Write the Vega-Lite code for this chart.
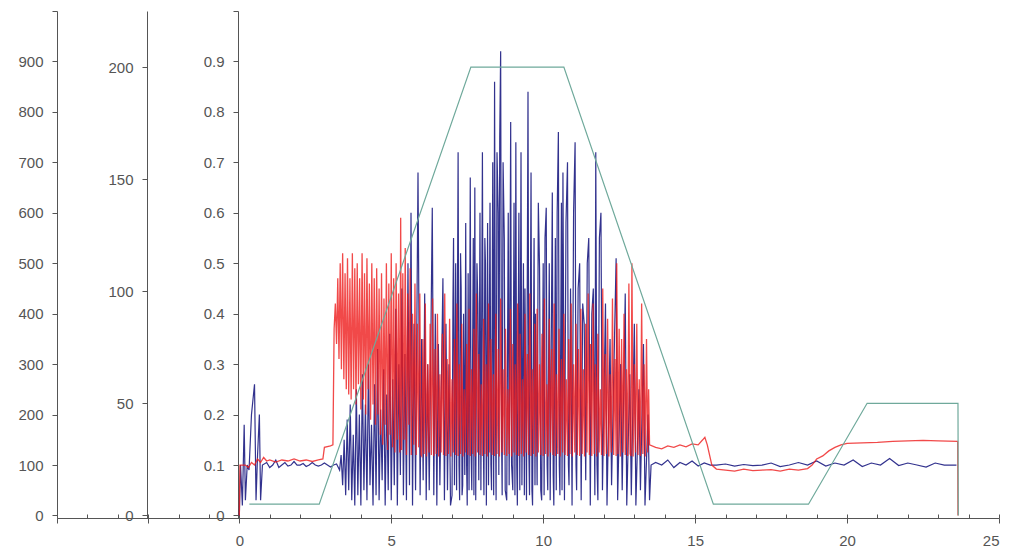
{
  "$schema": "https://vega.github.io/schema/vega-lite/v6.json",
  "width": 942,
  "height": 507,
  "autosize": "none",
  "padding": {"left": 57, "top": 11, "right": 13, "bottom": 33},
  "background": "white",
  "config": {
    "view": {"stroke": null},
    "axis": {"grid": false, "domainColor": "#555", "tickColor": "#555", "labelColor": "#555", "labelFont": "Liberation Sans", "labelFontSize": 15, "domainWidth": 1, "tickWidth": 1}
  },
  "datasets": {
    "red": [
      {"t":0.0,"v":0},{"t":0.02,"v":100},{"t":0.2,"v":100},{"t":0.3,"v":95},{"t":0.4,"v":105},{"t":0.5,"v":100},{"t":0.6,"v":112},{"t":0.7,"v":105},{"t":0.8,"v":115},{"t":0.9,"v":108},{"t":1.0,"v":110},{"t":1.2,"v":106},{"t":1.4,"v":110},{"t":1.6,"v":108},{"t":1.8,"v":112},{"t":2.0,"v":108},{"t":2.2,"v":110},{"t":2.4,"v":107},{"t":2.6,"v":110},{"t":2.75,"v":112},{"t":2.8,"v":135},{"t":3.0,"v":138},{"t":3.08,"v":140},
      {"t":3.12,"v":370},{"t":3.16,"v":420},{"t":3.2,"v":340},{"t":3.24,"v":470},{"t":3.28,"v":310},{"t":3.32,"v":500},{"t":3.36,"v":290},{"t":3.4,"v":520},{"t":3.44,"v":270},{"t":3.48,"v":480},{"t":3.52,"v":250},{"t":3.56,"v":510},{"t":3.6,"v":240},{"t":3.64,"v":470},{"t":3.68,"v":230},{"t":3.72,"v":520},{"t":3.76,"v":250},{"t":3.8,"v":490},{"t":3.84,"v":220},{"t":3.88,"v":500},{"t":3.92,"v":260},{"t":3.96,"v":470},{"t":4.0,"v":210},{"t":4.04,"v":520},{"t":4.08,"v":230},{"t":4.12,"v":480},{"t":4.16,"v":200},{"t":4.2,"v":510},{"t":4.24,"v":250},{"t":4.28,"v":460},{"t":4.32,"v":190},{"t":4.36,"v":500},{"t":4.4,"v":220},{"t":4.44,"v":470},{"t":4.48,"v":180},{"t":4.52,"v":490},{"t":4.56,"v":200},{"t":4.6,"v":450},
      {"t":4.64,"v":160},{"t":4.68,"v":480},{"t":4.72,"v":140},{"t":4.76,"v":430},{"t":4.8,"v":180},{"t":4.84,"v":500},{"t":4.88,"v":130},{"t":4.92,"v":460},{"t":4.96,"v":160},{"t":5.0,"v":520},{"t":5.04,"v":135},{"t":5.08,"v":470},{"t":5.12,"v":125},{"t":5.16,"v":500},{"t":5.2,"v":150},{"t":5.24,"v":440},{"t":5.28,"v":125},{"t":5.31,"v":590},{"t":5.34,"v":130},{"t":5.38,"v":480},{"t":5.42,"v":150},{"t":5.46,"v":530},{"t":5.5,"v":120},{"t":5.54,"v":440},{"t":5.58,"v":180},{"t":5.62,"v":490},{"t":5.66,"v":120},{"t":5.7,"v":400},{"t":5.74,"v":140},{"t":5.78,"v":460},{"t":5.82,"v":120},{"t":5.86,"v":380},{"t":5.9,"v":135},{"t":5.94,"v":440},{"t":5.98,"v":120},
      {"t":6.0,"v":118},{"t":6.04,"v":350},{"t":6.08,"v":122},{"t":6.12,"v":420},{"t":6.16,"v":117},{"t":6.2,"v":300},{"t":6.24,"v":125},{"t":6.28,"v":380},{"t":6.32,"v":120},{"t":6.36,"v":430},{"t":6.4,"v":118},{"t":6.44,"v":330},{"t":6.48,"v":122},{"t":6.52,"v":400},{"t":6.56,"v":117},{"t":6.6,"v":280},{"t":6.64,"v":125},{"t":6.68,"v":360},{"t":6.72,"v":120},{"t":6.76,"v":440},{"t":6.8,"v":118},{"t":6.84,"v":310},{"t":6.88,"v":122},{"t":6.92,"v":390},{"t":6.96,"v":117},
      {"t":7.0,"v":270},{"t":7.04,"v":125},{"t":7.08,"v":350},{"t":7.12,"v":120},{"t":7.16,"v":420},{"t":7.2,"v":118},{"t":7.24,"v":300},{"t":7.28,"v":122},{"t":7.32,"v":380},{"t":7.36,"v":117},{"t":7.4,"v":250},{"t":7.44,"v":125},{"t":7.48,"v":340},{"t":7.52,"v":120},{"t":7.56,"v":410},{"t":7.6,"v":118},{"t":7.64,"v":290},{"t":7.68,"v":122},{"t":7.72,"v":370},{"t":7.76,"v":117},{"t":7.8,"v":440},{"t":7.84,"v":125},{"t":7.88,"v":320},{"t":7.92,"v":120},{"t":7.96,"v":260},
      {"t":8.0,"v":118},{"t":8.04,"v":390},{"t":8.08,"v":122},{"t":8.12,"v":300},{"t":8.16,"v":117},{"t":8.2,"v":420},{"t":8.24,"v":125},{"t":8.28,"v":350},{"t":8.32,"v":120},{"t":8.36,"v":280},{"t":8.4,"v":118},{"t":8.44,"v":400},{"t":8.48,"v":122},{"t":8.52,"v":330},{"t":8.56,"v":117},{"t":8.6,"v":430},{"t":8.64,"v":125},{"t":8.68,"v":290},{"t":8.72,"v":120},{"t":8.76,"v":370},{"t":8.8,"v":118},{"t":8.84,"v":250},{"t":8.88,"v":122},{"t":8.92,"v":410},{"t":8.96,"v":117},
      {"t":9.0,"v":340},{"t":9.04,"v":125},{"t":9.08,"v":300},{"t":9.12,"v":120},{"t":9.16,"v":420},{"t":9.2,"v":118},{"t":9.24,"v":360},{"t":9.28,"v":122},{"t":9.32,"v":270},{"t":9.36,"v":117},{"t":9.4,"v":400},{"t":9.44,"v":125},{"t":9.48,"v":320},{"t":9.52,"v":120},{"t":9.56,"v":440},{"t":9.6,"v":118},{"t":9.64,"v":290},{"t":9.68,"v":122},{"t":9.72,"v":380},{"t":9.76,"v":117},{"t":9.8,"v":410},{"t":9.84,"v":125},{"t":9.88,"v":300},{"t":9.92,"v":120},{"t":9.96,"v":360},
      {"t":10.0,"v":118},{"t":10.04,"v":430},{"t":10.08,"v":122},{"t":10.12,"v":260},{"t":10.16,"v":117},{"t":10.2,"v":390},{"t":10.24,"v":125},{"t":10.28,"v":330},{"t":10.32,"v":120},{"t":10.36,"v":420},{"t":10.4,"v":118},{"t":10.44,"v":280},{"t":10.48,"v":122},{"t":10.52,"v":370},{"t":10.56,"v":117},{"t":10.6,"v":310},{"t":10.64,"v":125},{"t":10.68,"v":400},{"t":10.72,"v":120},{"t":10.76,"v":270},{"t":10.8,"v":118},{"t":10.84,"v":350},{"t":10.88,"v":122},{"t":10.92,"v":420},{"t":10.96,"v":117},
      {"t":11.0,"v":300},{"t":11.04,"v":125},{"t":11.08,"v":380},{"t":11.12,"v":120},{"t":11.16,"v":330},{"t":11.2,"v":118},{"t":11.24,"v":410},{"t":11.28,"v":122},{"t":11.32,"v":290},{"t":11.36,"v":117},{"t":11.4,"v":380},{"t":11.44,"v":125},{"t":11.48,"v":440},{"t":11.52,"v":120},{"t":11.56,"v":340},{"t":11.6,"v":118},{"t":11.64,"v":420},{"t":11.68,"v":122},{"t":11.72,"v":300},{"t":11.76,"v":117},{"t":11.8,"v":360},{"t":11.84,"v":125},{"t":11.88,"v":250},{"t":11.92,"v":120},{"t":11.96,"v":450},
      {"t":12.0,"v":118},{"t":12.04,"v":320},{"t":12.08,"v":122},{"t":12.12,"v":390},{"t":12.16,"v":117},{"t":12.2,"v":280},{"t":12.24,"v":125},{"t":12.28,"v":430},{"t":12.32,"v":120},{"t":12.36,"v":310},{"t":12.4,"v":118},{"t":12.42,"v":500},{"t":12.46,"v":122},{"t":12.5,"v":370},{"t":12.54,"v":117},{"t":12.58,"v":350},{"t":12.62,"v":125},{"t":12.66,"v":400},{"t":12.7,"v":120},{"t":12.74,"v":290},{"t":12.78,"v":118},{"t":12.82,"v":460},{"t":12.86,"v":122},{"t":12.89,"v":118},{"t":12.92,"v":500},{"t":12.96,"v":117},
      {"t":13.0,"v":300},{"t":13.04,"v":125},{"t":13.08,"v":380},{"t":13.12,"v":120},{"t":13.16,"v":270},{"t":13.2,"v":118},{"t":13.24,"v":420},{"t":13.28,"v":122},{"t":13.32,"v":300},{"t":13.36,"v":117},{"t":13.4,"v":350},{"t":13.44,"v":125},{"t":13.47,"v":250},
      {"t":13.5,"v":140},{"t":13.7,"v":135},{"t":13.9,"v":132},{"t":14.1,"v":138},{"t":14.3,"v":135},{"t":14.5,"v":140},{"t":14.7,"v":136},{"t":14.9,"v":142},{"t":15.1,"v":140},{"t":15.25,"v":150},{"t":15.32,"v":155},{"t":15.4,"v":140},{"t":15.55,"v":100},{"t":15.7,"v":92},{"t":16.0,"v":90},{"t":16.3,"v":88},{"t":16.6,"v":92},{"t":16.9,"v":89},{"t":17.2,"v":90},{"t":17.5,"v":91},{"t":17.8,"v":88},{"t":18.1,"v":92},{"t":18.4,"v":90},{"t":18.7,"v":93},{"t":18.85,"v":100},{"t":19.0,"v":112},{"t":19.2,"v":118},{"t":19.4,"v":128},{"t":19.6,"v":135},{"t":19.8,"v":140},{"t":20.0,"v":143},{"t":20.5,"v":144},{"t":21.0,"v":145},{"t":21.5,"v":147},{"t":22.0,"v":148},{"t":22.5,"v":149},{"t":23.0,"v":148},{"t":23.64,"v":147},{"t":23.65,"v":0}
    ],
    "blue": [
      {"t":0.0,"v":0.0},{"t":0.04,"v":0.1},{"t":0.1,"v":0.02},{"t":0.16,"v":0.18},{"t":0.2,"v":0.03},{"t":0.26,"v":0.1},{"t":0.32,"v":0.09},{"t":0.4,"v":0.2},{"t":0.5,"v":0.26},{"t":0.55,"v":0.03},{"t":0.6,"v":0.12},{"t":0.66,"v":0.2},{"t":0.7,"v":0.03},{"t":0.76,"v":0.1},{"t":0.9,"v":0.105},{"t":1.0,"v":0.095},{"t":1.1,"v":0.1},{"t":1.2,"v":0.11},{"t":1.3,"v":0.095},{"t":1.4,"v":0.1},{"t":1.5,"v":0.105},{"t":1.6,"v":0.098},{"t":1.7,"v":0.1},{"t":1.8,"v":0.107},{"t":1.9,"v":0.1},{"t":2.0,"v":0.1},{"t":2.1,"v":0.103},{"t":2.2,"v":0.097},{"t":2.3,"v":0.1},{"t":2.4,"v":0.105},{"t":2.5,"v":0.1},{"t":2.6,"v":0.098},{"t":2.7,"v":0.1},{"t":2.8,"v":0.104},{"t":2.9,"v":0.1},{"t":3.0,"v":0.096},{"t":3.1,"v":0.1},{"t":3.2,"v":0.102},{"t":3.3,"v":0.09},
      {"t":3.35,"v":0.12},{"t":3.4,"v":0.06},{"t":3.45,"v":0.15},{"t":3.5,"v":0.04},{"t":3.55,"v":0.19},{"t":3.6,"v":0.05},{"t":3.65,"v":0.22},{"t":3.7,"v":0.03},{"t":3.75,"v":0.16},{"t":3.8,"v":0.02},{"t":3.85,"v":0.25},{"t":3.9,"v":0.04},{"t":3.95,"v":0.2},{"t":4.0,"v":0.02},{"t":4.05,"v":0.28},{"t":4.1,"v":0.05},{"t":4.15,"v":0.22},{"t":4.2,"v":0.03},{"t":4.25,"v":0.3},{"t":4.3,"v":0.06},{"t":4.35,"v":0.18},{"t":4.4,"v":0.02},{"t":4.45,"v":0.26},{"t":4.5,"v":0.04},{"t":4.55,"v":0.33},{"t":4.6,"v":0.03},{"t":4.65,"v":0.21},{"t":4.7,"v":0.07},{"t":4.75,"v":0.29},{"t":4.8,"v":0.02},{"t":4.85,"v":0.24},{"t":4.9,"v":0.05},{"t":4.95,"v":0.36},{"t":5.0,"v":0.03},{"t":5.05,"v":0.27},{"t":5.1,"v":0.06},{"t":5.15,"v":0.41},{"t":5.2,"v":0.02},{"t":5.25,"v":0.3},{"t":5.3,"v":0.08},{"t":5.35,"v":0.45},{"t":5.4,"v":0.04},{"t":5.45,"v":0.32},{"t":5.5,"v":0.03},{"t":5.55,"v":0.5},{"t":5.6,"v":0.06},{"t":5.65,"v":0.6},{"t":5.7,"v":0.02},{"t":5.75,"v":0.38},{"t":5.8,"v":0.05},{"t":5.88,"v":0.68},{"t":5.95,"v":0.04},
      {"t":6.0,"v":0.35},{"t":6.05,"v":0.07},{"t":6.1,"v":0.44},{"t":6.15,"v":0.03},{"t":6.2,"v":0.3},{"t":6.25,"v":0.05},{"t":6.35,"v":0.61},{"t":6.4,"v":0.04},{"t":6.45,"v":0.4},{"t":6.5,"v":0.02},{"t":6.55,"v":0.34},{"t":6.6,"v":0.06},{"t":6.7,"v":0.47},{"t":6.75,"v":0.03},{"t":6.8,"v":0.38},{"t":6.85,"v":0.05},{"t":6.9,"v":0.3},{"t":6.95,"v":0.02},
      {"t":7.0,"v":0.04},{"t":7.03,"v":0.42},{"t":7.05,"v":0.55},{"t":7.08,"v":0.06},{"t":7.12,"v":0.5},{"t":7.15,"v":0.05},{"t":7.2,"v":0.72},{"t":7.23,"v":0.1},{"t":7.25,"v":0.03},{"t":7.28,"v":0.52},{"t":7.3,"v":0.45},{"t":7.33,"v":0.04},{"t":7.35,"v":0.06},{"t":7.38,"v":0.4},{"t":7.42,"v":0.08},{"t":7.45,"v":0.58},{"t":7.48,"v":0.1},{"t":7.5,"v":0.02},{"t":7.53,"v":0.48},{"t":7.56,"v":0.05},{"t":7.6,"v":0.67},{"t":7.63,"v":0.12},{"t":7.65,"v":0.05},{"t":7.7,"v":0.55},{"t":7.72,"v":0.04},{"t":7.75,"v":0.65},{"t":7.78,"v":0.03},{"t":7.82,"v":0.5},{"t":7.85,"v":0.42},{"t":7.88,"v":0.07},{"t":7.92,"v":0.6},{"t":7.95,"v":0.05},
      {"t":8.0,"v":0.72},{"t":8.03,"v":0.15},{"t":8.05,"v":0.04},{"t":8.08,"v":0.55},{"t":8.1,"v":0.5},{"t":8.13,"v":0.02},{"t":8.17,"v":0.58},{"t":8.2,"v":0.06},{"t":8.25,"v":0.62},{"t":8.28,"v":0.1},{"t":8.3,"v":0.05},{"t":8.34,"v":0.7},{"t":8.37,"v":0.04},{"t":8.4,"v":0.86},{"t":8.43,"v":0.2},{"t":8.45,"v":0.03},{"t":8.48,"v":0.72},{"t":8.52,"v":0.6},{"t":8.54,"v":0.08},{"t":8.57,"v":0.75},{"t":8.6,"v":0.92},{"t":8.63,"v":0.15},{"t":8.65,"v":0.04},{"t":8.68,"v":0.7},{"t":8.72,"v":0.55},{"t":8.75,"v":0.05},{"t":8.8,"v":0.03},{"t":8.85,"v":0.6},{"t":8.88,"v":0.06},{"t":8.93,"v":0.78},{"t":8.96,"v":0.1},
      {"t":9.0,"v":0.05},{"t":9.04,"v":0.62},{"t":9.07,"v":0.04},{"t":9.1,"v":0.74},{"t":9.13,"v":0.1},{"t":9.15,"v":0.02},{"t":9.2,"v":0.6},{"t":9.23,"v":0.05},{"t":9.27,"v":0.72},{"t":9.3,"v":0.06},{"t":9.35,"v":0.5},{"t":9.38,"v":0.04},{"t":9.4,"v":0.45},{"t":9.45,"v":0.03},{"t":9.5,"v":0.84},{"t":9.53,"v":0.12},{"t":9.55,"v":0.04},{"t":9.6,"v":0.68},{"t":9.63,"v":0.05},{"t":9.65,"v":0.02},{"t":9.7,"v":0.55},{"t":9.73,"v":0.06},{"t":9.75,"v":0.4},{"t":9.8,"v":0.06},{"t":9.84,"v":0.62},{"t":9.88,"v":0.49},{"t":9.92,"v":0.05},{"t":9.95,"v":0.03},
      {"t":10.0,"v":0.5},{"t":10.03,"v":0.04},{"t":10.06,"v":0.55},{"t":10.1,"v":0.61},{"t":10.13,"v":0.1},{"t":10.15,"v":0.05},{"t":10.2,"v":0.5},{"t":10.23,"v":0.03},{"t":10.3,"v":0.64},{"t":10.33,"v":0.08},{"t":10.35,"v":0.02},{"t":10.4,"v":0.55},{"t":10.43,"v":0.05},{"t":10.46,"v":0.6},{"t":10.5,"v":0.76},{"t":10.53,"v":0.1},{"t":10.55,"v":0.04},{"t":10.6,"v":0.62},{"t":10.62,"v":0.05},{"t":10.65,"v":0.68},{"t":10.7,"v":0.03},{"t":10.75,"v":0.58},{"t":10.8,"v":0.7},{"t":10.83,"v":0.1},{"t":10.85,"v":0.06},{"t":10.9,"v":0.45},{"t":10.95,"v":0.02},
      {"t":11.0,"v":0.6},{"t":11.05,"v":0.74},{"t":11.08,"v":0.1},{"t":11.1,"v":0.05},{"t":11.15,"v":0.45},{"t":11.2,"v":0.5},{"t":11.25,"v":0.03},{"t":11.3,"v":0.42},{"t":11.35,"v":0.38},{"t":11.4,"v":0.07},{"t":11.45,"v":0.5},{"t":11.5,"v":0.55},{"t":11.55,"v":0.02},{"t":11.6,"v":0.4},{"t":11.65,"v":0.45},{"t":11.7,"v":0.04},{"t":11.73,"v":0.72},{"t":11.77,"v":0.1},{"t":11.8,"v":0.03},{"t":11.85,"v":0.55},{"t":11.9,"v":0.6},{"t":11.95,"v":0.05},
      {"t":12.05,"v":0.42},{"t":12.1,"v":0.02},{"t":12.2,"v":0.35},{"t":12.25,"v":0.06},{"t":12.4,"v":0.51},{"t":12.45,"v":0.03},{"t":12.55,"v":0.3},{"t":12.6,"v":0.05},{"t":12.7,"v":0.44},{"t":12.75,"v":0.02},{"t":12.85,"v":0.28},{"t":12.9,"v":0.04},{"t":13.0,"v":0.38},{"t":13.05,"v":0.02},{"t":13.15,"v":0.25},{"t":13.2,"v":0.05},{"t":13.3,"v":0.34},{"t":13.35,"v":0.02},{"t":13.45,"v":0.2},{"t":13.5,"v":0.03},
      {"t":13.55,"v":0.1},{"t":13.7,"v":0.105},{"t":13.9,"v":0.1},{"t":14.1,"v":0.11},{"t":14.3,"v":0.095},{"t":14.5,"v":0.105},{"t":14.7,"v":0.1},{"t":14.9,"v":0.108},{"t":15.1,"v":0.098},{"t":15.3,"v":0.104},{"t":15.5,"v":0.1},{"t":15.7,"v":0.1},{"t":16.0,"v":0.102},{"t":16.3,"v":0.098},{"t":16.6,"v":0.101},{"t":16.9,"v":0.099},{"t":17.2,"v":0.1},{"t":17.5,"v":0.104},{"t":17.8,"v":0.097},{"t":18.1,"v":0.1},{"t":18.4,"v":0.105},{"t":18.7,"v":0.1},{"t":19.0,"v":0.108},{"t":19.3,"v":0.098},{"t":19.6,"v":0.104},{"t":19.9,"v":0.1},{"t":20.2,"v":0.11},{"t":20.5,"v":0.097},{"t":20.8,"v":0.104},{"t":21.1,"v":0.1},{"t":21.4,"v":0.113},{"t":21.7,"v":0.099},{"t":22.0,"v":0.104},{"t":22.3,"v":0.1},{"t":22.6,"v":0.096},{"t":22.9,"v":0.104},{"t":23.2,"v":0.1},{"t":23.6,"v":0.1}
    ],
    "green": [
      {"t":0.33,"v":5},{"t":2.63,"v":5},{"t":7.62,"v":200},{"t":10.68,"v":200},{"t":15.6,"v":5},{"t":18.73,"v":5},{"t":20.66,"v":50},{"t":23.65,"v":50},{"t":23.66,"v":0}
    ]
  },
  "resolve": {"scale": {"y": "independent"}, "axis": {"y": "independent", "x": "independent"}},
  "layer": [
    {
      "data": {"name": "blue"},
      "mark": {"type": "line", "color": "#1c1c82", "strokeWidth": 1.2, "opacity": 0.9, "clip": true},
      "encoding": {
        "x": {"field": "t", "type": "quantitative", "scale": {"domain": [-6, 25], "nice": false, "zero": false},
          "axis": {"orient": "top", "offset": -507, "values": [-6,-5,-4,-3,-2,-1,0,1,2,3,4,5,6,7,8,9,10,11,12,13,14,15,16,17,18,19,20,21,22,23,24,25], "tickSize": 4, "labels": false, "domain": false, "title": null}},
        "y": {"field": "v", "type": "quantitative", "scale": {"domain": [-0.005, 1.0], "nice": false},
          "axis": {"orient": "left", "offset": -181, "values": [0, 0.1, 0.2, 0.3, 0.4, 0.5, 0.6, 0.7, 0.8, 0.9, 1.0], "format": ".1~f", "tickSize": 5, "labelPadding": 9, "title": null, "labelExpr": "datum.value >= 1 ? '' : datum.label"}}
      }
    },
    {
      "data": {"name": "red"},
      "mark": {"type": "line", "color": "#ee1c1c", "strokeWidth": 1.3, "opacity": 0.8, "clip": true},
      "encoding": {
        "x": {"field": "t", "type": "quantitative", "scale": {"domain": [-6, 25], "nice": false, "zero": false},
          "axis": {"orient": "bottom", "values": [-6, -3, 0, 5, 10, 15, 20, 25], "tickSize": 5, "labelPadding": 10, "title": null, "labelExpr": "datum.value < 0 ? '' : datum.label"}},
        "y": {"field": "v", "type": "quantitative", "scale": {"domain": [-5, 1000], "nice": false},
          "axis": {"orient": "left", "offset": 0, "values": [0, 100, 200, 300, 400, 500, 600, 700, 800, 900, 1000], "tickSize": 5, "labelPadding": 9, "title": null, "labelExpr": "datum.value >= 1000 ? '' : datum.label"}}
      }
    },
    {
      "data": {"name": "green"},
      "mark": {"type": "line", "color": "#6fa99b", "strokeWidth": 1.2, "clip": true},
      "encoding": {
        "x": {"field": "t", "type": "quantitative", "scale": {"domain": [-6, 25], "nice": false, "zero": false}, "axis": null},
        "y": {"field": "v", "type": "quantitative", "scale": {"domain": [-1.16, 225], "nice": false},
          "axis": {"orient": "left", "offset": -90, "values": [0, 50, 100, 150, 200], "tickSize": 5, "labelPadding": 9, "title": null}}
      }
    }
  ]
}
